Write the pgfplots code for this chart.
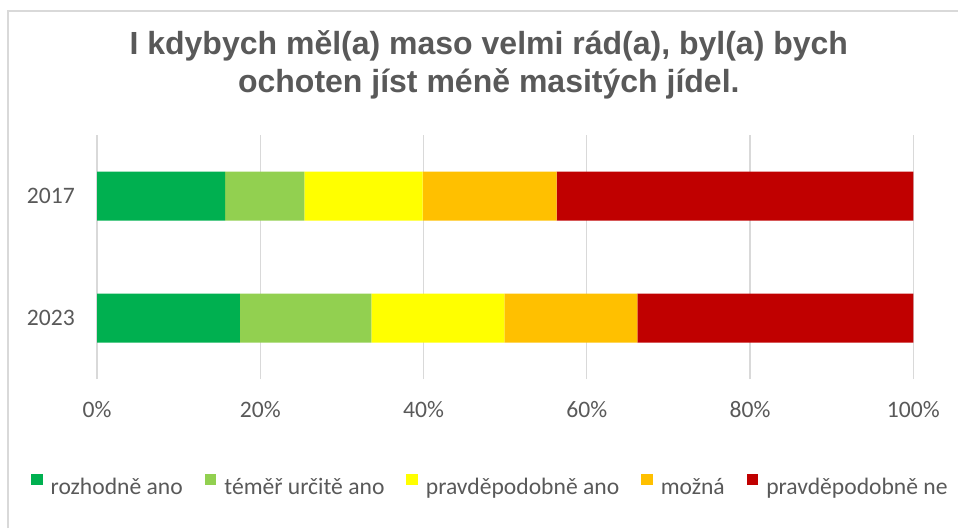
\documentclass[border=0pt]{standalone}
\usepackage{fontspec}
\setmainfont{Carlito}
\newfontfamily\titlefont{Liberation Sans}
\usepackage{pgfplots}
\pgfplotsset{compat=1.18}
\definecolor{txt}{HTML}{595959}
\definecolor{gridc}{HTML}{D9D9D9}
\definecolor{c1}{HTML}{00B050}
\definecolor{c2}{HTML}{92D050}
\definecolor{c3}{HTML}{FFFF00}
\definecolor{c4}{HTML}{FFC000}
\definecolor{c5}{HTML}{C00000}
\begin{document}
\begin{tikzpicture}[x=1pt,y=1pt]
\path[use as bounding box] (0,0) rectangle (958,528);
\draw[gridc, line width=1.5pt] (8,0) -- (8,517) -- (958,517);
\begin{axis}[
  at={(97pt,149pt)}, anchor=south west,
  scale only axis, width=816.3pt, height=244pt,
  xbar stacked, bar width=49pt,
  xmin=0, xmax=100, ymin=-0.5, ymax=1.5,
  xtick={0,20,40,60,80,100},
  xticklabels={0\%,20\%,40\%,60\%,80\%,100\%},
  ytick={0,1}, yticklabels={2023,2017},
  axis line style={draw=none}, major tick length=0pt,
  xmajorgrids, grid style={draw=gridc, line width=1.3pt},
  ticklabel style={font=\fontsize{23.6}{28}\selectfont, text=txt},
  xticklabel style={anchor=center, yshift=-31pt, inner sep=0pt},
  yticklabel style={anchor=east, xshift=-22pt, inner sep=0pt},
  title={I kdybych měl(a) maso velmi rád(a), byl(a) bych\\ochoten jíst méně masitých jídel.},
  title style={at={(0.48,1)}, anchor=south, yshift=30pt, inner sep=0pt, align=center,
    font=\titlefont\bfseries\fontsize{32}{38}\selectfont, text=txt},
  legend columns=5,
  legend image code/.code={\fill[#1] (0pt,2.5pt) rectangle (11.5pt,13.5pt);},
  legend style={at={(-0.0809,-0.4336)}, anchor=west, draw=none, fill=none, inner sep=0pt,
    font=\fontsize{23.6}{28}\selectfont, text=txt,
    nodes={inner sep=0pt},
    /tikz/every odd column/.append style={column sep=8pt},
    /tikz/every even column/.append style={column sep=22pt}},
  legend cell align=left,
]
\addplot[fill=c1, draw=none] coordinates {(17.5,0) (15.7,1)};
\addplot[fill=c2, draw=none] coordinates {(16.1,0) (9.7,1)};
\addplot[fill=c3, draw=none] coordinates {(16.3,0) (14.5,1)};
\addplot[fill=c4, draw=none] coordinates {(16.3,0) (16.4,1)};
\addplot[fill=c5, draw=none] coordinates {(33.8,0) (43.7,1)};
\legend{rozhodně ano, téměř určitě ano, pravděpodobně ano, možná, pravděpodobně ne}
\end{axis}
\end{tikzpicture}
\end{document}
